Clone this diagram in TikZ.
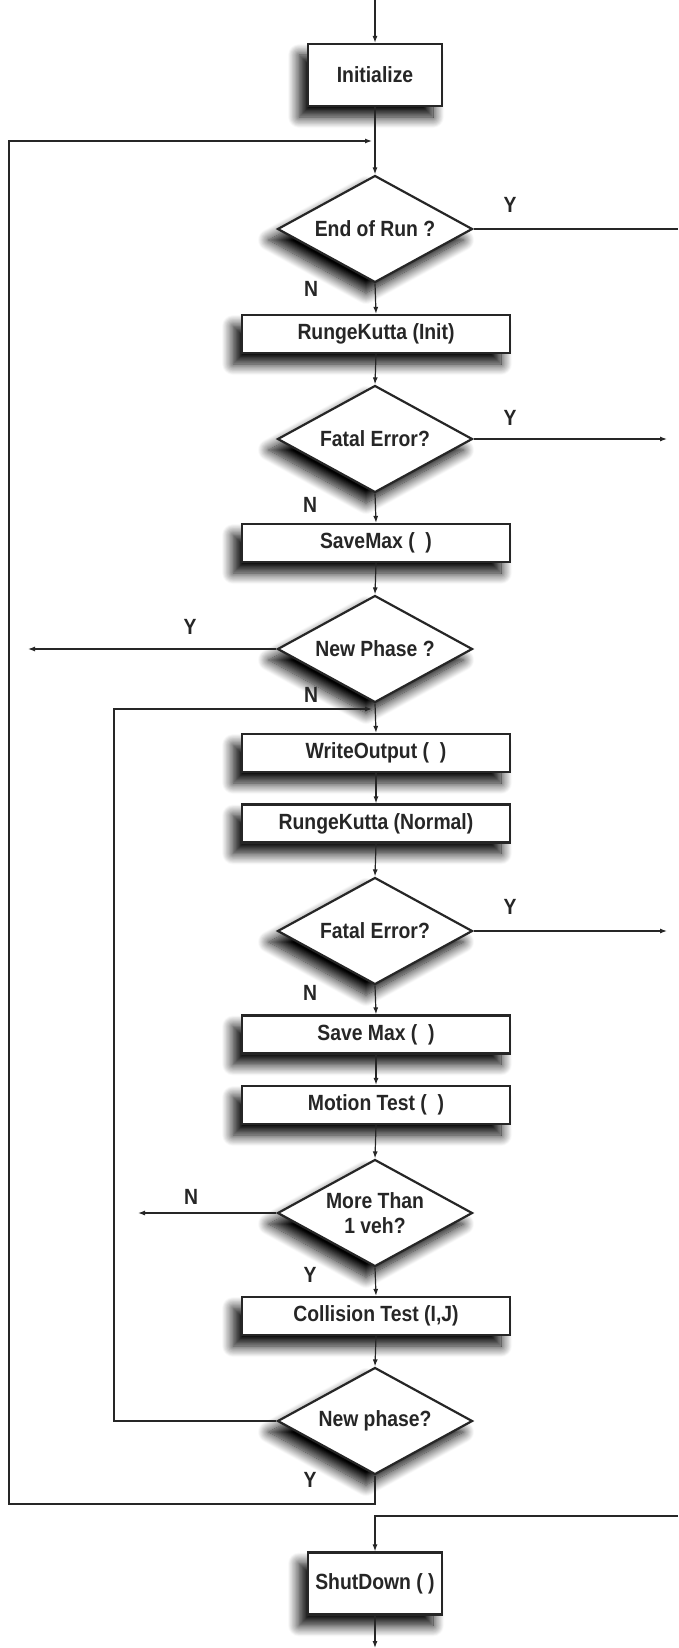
\documentclass[tikz,border=0pt]{standalone}
\usepackage{fontspec}
\setmainfont{Liberation Sans}[FakeStretch=0.88]
\usetikzlibrary{shapes.geometric,arrows.meta,shadows.blur}

\definecolor{ink}{HTML}{262626}

\tikzset{
  dropshade/.style={blur shadow={shadow xshift=-9pt, shadow yshift=-11pt,
      shadow blur radius=11pt, shadow blur steps=14, shadow opacity=100}},
  procbox/.style={draw=ink, line width=2.2pt, fill=white, rectangle,
      minimum width=268pt, minimum height=38pt, inner sep=0pt,
      font=\fontsize{22}{24}\selectfont\bfseries, text=ink, dropshade},
  bigbox/.style={procbox, minimum width=134pt, minimum height=62pt},
  decision/.style={draw=ink, line width=2.2pt, fill=white, diamond,
      aspect=1.82, minimum width=195pt, minimum height=107pt, inner sep=0pt,
      align=center, font=\fontsize{22}{25}\selectfont\bfseries, text=ink,
      dropshade},
  flow/.style={draw=ink, line width=1.2pt, -{Latex[length=7pt,width=5pt]}},
  wire/.style={draw=ink, line width=1.2pt},
  answer/.style={font=\fontsize{22}{24}\selectfont\bfseries, text=ink, inner sep=0pt},
}

\begin{document}
\begin{tikzpicture}[x=1pt, y=-1pt]
\useasboundingbox (0,0) rectangle (678,1648);

% process steps and decisions
\node[bigbox]   (init)      at (375,75)     {Initialize};
\node[decision] (run)       at (375,229)    {End of Run ?};
\node[procbox]  (rkinit)    at (376,334)    {RungeKutta (Init)};
\node[decision] (fatalA)    at (375,439)    {Fatal Error?};
\node[procbox]  (saveA)     at (376,543)    {SaveMax (\ \ )};
\node[decision] (phaseA)    at (375,649)    {New Phase ?};
\node[procbox]  (write)     at (376,753)    {WriteOutput (\ \ )};
\node[procbox]  (rknorm)    at (376,823.5)  {RungeKutta (Normal)};
\node[decision] (fatalB)    at (375,931)    {Fatal Error?};
\node[procbox]  (saveB)     at (376,1034.5) {Save Max (\ \ )};
\node[procbox]  (motion)    at (376,1105)   {Motion Test (\ \ )};
\node[decision] (more)      at (375,1213)   {More Than\\1 veh?};
\node[procbox]  (collide)   at (376,1316)   {Collision Test (I,J)};
\node[decision] (phaseB)    at (375,1421)   {New phase?};
\node[bigbox]   (shut)      at (375,1583.5) {ShutDown ( )};

% free ends and junctions
\coordinate (entry)   at (375,0);
\coordinate (exit)    at (375,1648);
\coordinate (outerj)  at (375,141);
\coordinate (innerj)  at (375,709);
\coordinate (runY)    at (678,229);
\coordinate (fatalAY) at (667,439);
\coordinate (phaseAY) at (28,649);
\coordinate (fatalBY) at (667,931);
\coordinate (moreN)   at (138,1213);
\coordinate (offin)   at (678,1516);

% main column
\draw[flow] (entry) -- (init.north);
\draw[flow] (init.south) -- (run.north);
\draw[flow] (run.south) -- (rkinit.north);
\draw[flow] (rkinit.south) -- (fatalA.north);
\draw[flow] (fatalA.south) -- (saveA.north);
\draw[flow] (saveA.south) -- (phaseA.north);
\draw[flow] (phaseA.south) -- (write.north);
\draw[flow] (write.south) -- (rknorm.north);
\draw[flow] (rknorm.south) -- (fatalB.north);
\draw[flow] (fatalB.south) -- (saveB.north);
\draw[flow] (saveB.south) -- (motion.north);
\draw[flow] (motion.south) -- (more.north);
\draw[flow] (more.south) -- (collide.north);
\draw[flow] (collide.south) -- (phaseB.north);
\draw[flow] (shut.south) -- (exit);

% side exits
\draw[wire] (run.east) -- (runY);
\draw[flow] (fatalA.east) -- (fatalAY);
\draw[flow] (phaseA.west) -- (phaseAY);
\draw[flow] (fatalB.east) -- (fatalBY);
\draw[flow] (more.west) -- (moreN);

% loops back up the column
\draw[flow, shorten >=3pt] (phaseB.west) -- (114,1421) -- (114,709) -- (innerj);
\draw[flow, shorten >=3pt] (phaseB.south) -- (375,1504) -- (9,1504) -- (9,141) -- (outerj);

% incoming line to shutdown
\draw[flow] (offin) -- (375,1516) -- (shut.north);

% branch labels
\node[answer] at (510,205)  {Y};
\node[answer] at (311,289)  {N};
\node[answer] at (510,418)  {Y};
\node[answer] at (310,505)  {N};
\node[answer] at (190,627)  {Y};
\node[answer] at (311,695)  {N};
\node[answer] at (510,907)  {Y};
\node[answer] at (310,993)  {N};
\node[answer] at (191,1197) {N};
\node[answer] at (310,1275) {Y};
\node[answer] at (310,1480) {Y};
\end{tikzpicture}
\end{document}
